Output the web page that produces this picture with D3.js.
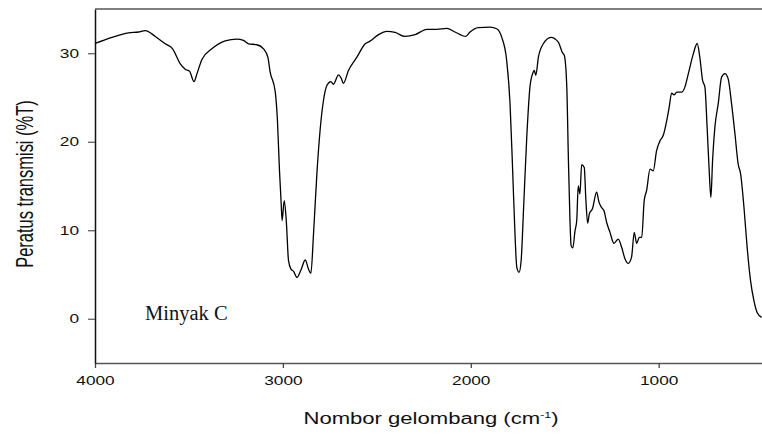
<!DOCTYPE html>
<html>
<head>
<meta charset="utf-8">
<script src="https://cdn.jsdelivr.net/npm/d3@7"></script>
<style>
  body { margin: 0; background: #fff; }
  svg { display: block; }
</style>
</head>
<body>
<div id="vis"></div>
<script>
////////data//////////////////////////////////////////////////
var wavenumber = [4000, 3910, 3821, 3768, 3732, 3679, 3626, 3587, 3546, 3520, 3497, 3473, 3457, 3431, 3378,
  3307, 3245, 3210, 3183, 3138, 3103, 3080, 3068, 3041, 3029, 3018, 3009, 3004, 2993, 2982, 2970, 2957,
  2943, 2925, 2904, 2881, 2864, 2851, 2837, 2819, 2802, 2784, 2766, 2745, 2731, 2704, 2690, 2678, 2651,
  2606, 2562, 2536, 2491, 2447, 2403, 2350, 2296, 2234, 2181, 2128, 2084, 2027, 2004, 1960, 1897, 1862,
  1835, 1809, 1791, 1777, 1764, 1755, 1743, 1732, 1718, 1702, 1685, 1670, 1662, 1654, 1640, 1614, 1573,
  1534, 1513, 1502, 1489, 1481, 1472, 1466, 1457, 1445, 1436, 1428, 1419, 1410, 1396, 1388, 1378, 1369,
  1353, 1330, 1318, 1305, 1291, 1277, 1259, 1238, 1215, 1197, 1179, 1162, 1144, 1130, 1117, 1103, 1090,
  1077, 1064, 1046, 1029, 1011, 993, 976, 957, 944, 931, 918, 904, 878, 860, 842, 816, 795, 781, 766,
  754, 742, 731, 722, 713, 701, 683, 665, 647, 630, 612, 594, 577, 564, 546, 529, 511, 493, 476, 452]
var transmittance = [31.1, 31.8, 32.3, 32.4, 32.55, 31.9, 31.07, 30.5, 28.8, 28.2, 27.98, 26.8, 27.7, 29.3, 30.5,
  31.4, 31.6, 31.45, 31.07, 30.96, 30.5, 29.56, 27.9, 25.7, 22.4, 16.7, 12.97, 11.1, 13.35, 11.1, 6.56, 5.6,
  5.35, 4.67, 5.5, 6.64, 5.62, 5.13, 9.58, 16.4, 21.3, 24.66, 26.36, 26.8, 26.5, 27.56, 27.2, 26.6, 28.05,
  29.56, 31.07, 31.37, 32.1, 32.47, 32.35, 31.9, 32.1, 32.7, 32.7, 32.8, 32.4, 31.9, 32.4, 32.9, 32.95, 32.77,
  31.8, 29.2, 24.3, 16.7, 9.2, 5.8, 5.24, 6.56, 12.97, 20.5, 26.2, 27.75, 28.05, 27.5, 29.56, 31.07, 31.8,
  31.25, 30.1, 29.75, 26.2, 18.6, 11.1, 8.26, 8.0, 9.95, 11.1, 15.0, 14.1, 17.4, 17.1, 13.7, 10.8, 11.85,
  12.4, 14.3, 13.2, 12.6, 12.2, 10.9, 9.76, 8.52, 9.0, 8.07, 6.75, 6.26, 7.0, 9.76, 8.52, 9.2, 9.2,
  13.35, 14.5, 16.9, 16.7, 19.0, 20.1, 20.7, 22.4, 23.9, 25.5, 25.3, 25.6, 25.6, 26.2, 27.7, 29.9, 31.1, 29.56, 26.9,
  26.2, 21.6, 16.7, 13.7, 17.9, 21.6, 24.3, 27.3, 27.7, 27.1, 24.3, 20.9, 17.5, 16.4, 12.6, 8.07, 4.3, 2.04, 0.71, 0.15]
var xTicks = [4000, 3000, 2000, 1000]
var yTicks = [0, 10, 20, 30]

var spectrum = wavenumber.map(function (w, i) { return { x: w, y: transmittance[i] } })

////////setting up////////////////////////////////////////////
var width = 762
var height = 435
var plotLeft = 95, plotRight = 762, plotTop = 9, plotBottom = 363
var stretch = 1.38   // labels are drawn wide

var svg = d3.select("#vis")
  .append("svg")
  .attr("width", width)
  .attr("height", height)
  .attr("font-family", "'Liberation Sans', Arial, sans-serif")

var x = d3.scaleLinear().domain([4000, 450]).range([plotLeft, plotRight])
var y = d3.scaleLinear().domain([-5, 35]).range([plotBottom, plotTop])

svg.append("clipPath").attr("id", "plot")
  .append("rect")
  .attr("x", plotLeft).attr("y", plotTop)
  .attr("width", plotRight - plotLeft).attr("height", plotBottom - plotTop)

////////axes//////////////////////////////////////////////////
var xAxis = svg.append("g")
  .attr("transform", "translate(0," + plotBottom + ")")
  .call(d3.axisBottom(x).tickValues(xTicks).tickFormat(d3.format("d"))
    .tickSize(5).tickSizeOuter(0).tickPadding(8))
xAxis.select(".domain").attr("stroke", "#555").attr("stroke-width", 1.5)
xAxis.selectAll(".tick line").attr("stroke", "#444").attr("stroke-width", 1.3)
xAxis.selectAll(".tick text")
  .attr("font-size", 12.5)
  .attr("fill", "#111")
  .attr("transform", "scale(" + stretch + ",1)")

var yAxis = svg.append("g")
  .attr("transform", "translate(" + plotLeft + ",0)")
  .call(d3.axisLeft(y).tickValues(yTicks).tickFormat(d3.format("d"))
    .tickSize(7).tickSizeOuter(0).tickPadding(9))
yAxis.select(".domain").attr("stroke", "#111").attr("stroke-width", 1.5)
yAxis.selectAll(".tick line").attr("stroke", "#555").attr("stroke-width", 1.2)
yAxis.selectAll(".tick text")
  .attr("font-size", 12.5)
  .attr("fill", "#111")
  .attr("transform", function () {
    // widen each label around its right edge
    return "translate(-16,0) scale(" + stretch + ",1) translate(16,0)"
  })

// top frame line
svg.append("line")
  .attr("x1", plotLeft).attr("x2", plotRight)
  .attr("y1", plotTop).attr("y2", plotTop)
  .attr("stroke", "#555")
  .attr("stroke-width", 1.5)

////////spectrum//////////////////////////////////////////////
var line = d3.line()
  .x(function (d) { return x(d.x) })
  .y(function (d) { return y(d.y) })
  .curve(d3.curveMonotoneX)

svg.append("path")
  .datum(spectrum)
  .attr("clip-path", "url(#plot)")
  .attr("fill", "none")
  .attr("stroke", "#000")
  .attr("stroke-width", 1.3)
  .attr("stroke-linejoin", "round")
  .attr("d", line)

////////labels////////////////////////////////////////////////
svg.append("text")
  .attr("transform", "translate(33,184) scale(1.5,1) rotate(-90)")
  .attr("text-anchor", "middle")
  .attr("font-size", 16.5)
  .attr("fill", "#111")
  .text("Peratus transmisi (%T)")

var xLabel = svg.append("text")
  .attr("transform", "translate(431,424) scale(" + stretch + ",1)")
  .attr("text-anchor", "middle")
  .attr("font-size", 16)
  .attr("fill", "#111")
xLabel.append("tspan").text("Nombor gelombang (cm")
xLabel.append("tspan").attr("font-size", 9).attr("dy", -6).text("-1")
xLabel.append("tspan").attr("dy", 6).text(")")

svg.append("text")
  .attr("x", 145)
  .attr("y", 320)
  .attr("font-family", "'Liberation Serif', 'DejaVu Serif', serif")
  .attr("font-size", 20.5)
  .attr("fill", "#111")
  .text("Minyak C")
</script>
</body>
</html>
